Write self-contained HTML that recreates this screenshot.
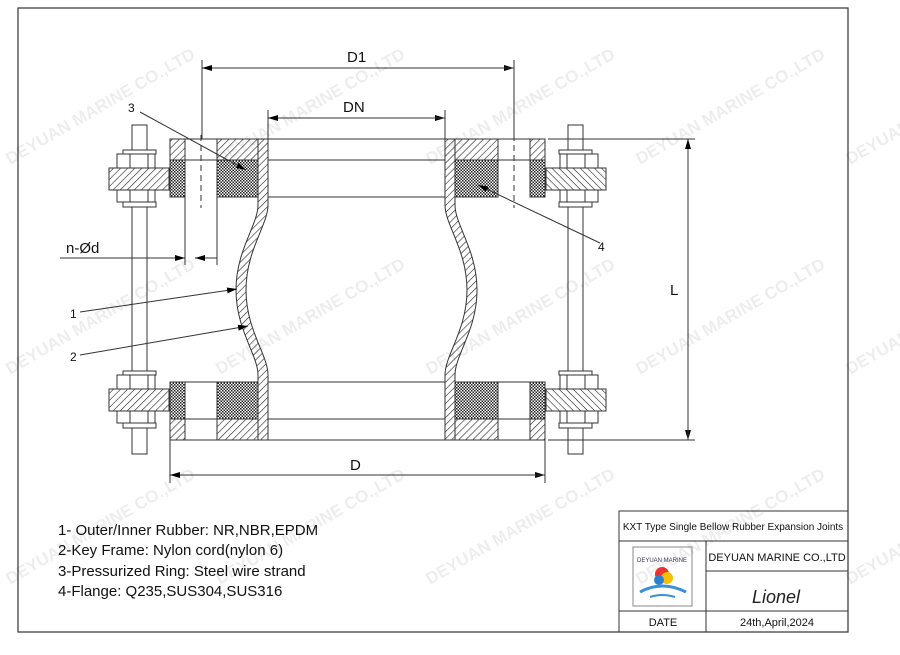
<!DOCTYPE html>
<html><head><meta charset="utf-8"><style>
html,body{margin:0;padding:0;background:#fff;}
svg{display:block;}
text{font-family:"Liberation Sans",Arial,sans-serif;}
</style></head><body>
<svg width="900" height="655" viewBox="0 0 900 655" xmlns="http://www.w3.org/2000/svg">
<defs>
<pattern id="h" width="5" height="5" patternUnits="userSpaceOnUse" patternTransform="rotate(45)">
<rect width="5" height="5" fill="#fff"/><line x1="0" y1="0" x2="0" y2="5" stroke="#222" stroke-width="1.2"/></pattern>
<pattern id="c" width="3" height="3" patternUnits="userSpaceOnUse">
<rect width="3" height="3" fill="#fff"/><rect width="1.5" height="1.5" fill="#222"/><rect x="1.5" y="1.5" width="1.5" height="1.5" fill="#222"/></pattern>
<marker id="a" markerWidth="10" markerHeight="6" refX="10" refY="3" orient="auto" markerUnits="userSpaceOnUse"><path d="M0,0 L10,3 L0,6z" fill="#000"/></marker>
<g id="nut">
<rect x="123" y="-4" width="33" height="4" fill="#fff" stroke="#333"/>
<rect x="117" y="0" width="38" height="48" fill="#fff" stroke="#333"/>
<line x1="130" y1="0" x2="130" y2="48" stroke="#333"/><line x1="148" y1="0" x2="148" y2="48" stroke="#333"/>
<rect x="123" y="48" width="33" height="5" fill="#fff" stroke="#333"/>
<rect x="109" y="14" width="60" height="22" fill="url(#h)" stroke="#333"/>
</g>
<g id="bolt">
<rect x="132" y="125" width="15" height="329" fill="#fff" stroke="#333"/>
<g transform="translate(0,154)"><use href="#nut"/></g>
<g transform="translate(0,375)"><use href="#nut"/></g>
</g>
</defs>
<rect width="900" height="655" fill="#fff"/>
<rect x="18" y="8" width="830" height="624" fill="none" stroke="#333" stroke-width="1.2"/>

<use href="#bolt"/>
<g transform="translate(715,0) scale(-1,1)"><use href="#bolt"/></g>

<g stroke="#333" fill="none">
<line x1="170" y1="139" x2="545" y2="139"/>
<line x1="170" y1="160" x2="545" y2="160"/>
<line x1="268" y1="197" x2="445" y2="197"/>
<line x1="170" y1="382" x2="545" y2="382"/>
<line x1="170" y1="419" x2="545" y2="419"/>
<line x1="170" y1="440" x2="545" y2="440"/>
</g>

<rect x="170" y="139" width="15" height="21" fill="url(#h)" stroke="#333"/>
<rect x="170" y="160" width="15" height="37" fill="url(#c)" stroke="#333"/>
<rect x="217" y="139" width="51" height="21" fill="url(#h)" stroke="#333"/>
<rect x="217" y="160" width="41" height="37" fill="url(#c)" stroke="#333"/>
<rect x="530" y="139" width="15" height="21" fill="url(#h)" stroke="#333"/>
<rect x="530" y="160" width="15" height="37" fill="url(#c)" stroke="#333"/>
<rect x="445" y="139" width="53" height="21" fill="url(#h)" stroke="#333"/>
<rect x="455" y="160" width="43" height="37" fill="url(#c)" stroke="#333"/>
<rect x="170" y="382" width="15" height="37" fill="url(#c)" stroke="#333"/>
<rect x="170" y="419" width="15" height="21" fill="url(#h)" stroke="#333"/>
<rect x="217" y="382" width="41" height="37" fill="url(#c)" stroke="#333"/>
<rect x="217" y="419" width="51" height="21" fill="url(#h)" stroke="#333"/>
<rect x="530" y="382" width="15" height="37" fill="url(#c)" stroke="#333"/>
<rect x="530" y="419" width="15" height="21" fill="url(#h)" stroke="#333"/>
<rect x="455" y="382" width="43" height="37" fill="url(#c)" stroke="#333"/>
<rect x="445" y="419" width="53" height="21" fill="url(#h)" stroke="#333"/>

<g stroke="#333" stroke-dasharray="6,4">
<line x1="201" y1="135" x2="201" y2="208"/>
<line x1="514" y1="135" x2="514" y2="208"/>
</g>
<g stroke="#333">
<line x1="185" y1="197" x2="185" y2="265"/>
<line x1="217" y1="197" x2="217" y2="265"/>
<line x1="498" y1="139" x2="498" y2="197"/>
<line x1="498" y1="382" x2="498" y2="440"/>
</g>

<path d="M258,160 L258,205 C258,225 236,250 236,290 C236,330 258,355 258,375 L258,440 L268,440 L268,375 C268,355 246,330 246,290 C246,250 268,225 268,205 L268,139 L258,139 Z" fill="url(#h)" stroke="#333"/>
<path d="M455,160 L455,205 C455,225 477,250 477,290 C477,330 455,355 455,375 L455,440 L445,440 L445,375 C445,355 467,330 467,290 C467,250 445,225 445,205 L445,139 L455,139 Z" fill="url(#h)" stroke="#333"/>

<g stroke="#333" fill="none">
<line x1="202" y1="60" x2="202" y2="139"/><line x1="514" y1="60" x2="514" y2="139"/>
<line x1="202" y1="68" x2="514" y2="68" marker-end="url(#a)"/>
<line x1="514" y1="68" x2="202" y2="68" marker-end="url(#a)"/>
<line x1="268" y1="110" x2="268" y2="139"/><line x1="445" y1="110" x2="445" y2="139"/>
<line x1="268" y1="118" x2="445" y2="118" marker-end="url(#a)"/>
<line x1="445" y1="118" x2="268" y2="118" marker-end="url(#a)"/>
<line x1="170" y1="440" x2="170" y2="483"/><line x1="545" y1="440" x2="545" y2="483"/>
<line x1="170" y1="475" x2="545" y2="475" marker-end="url(#a)"/>
<line x1="545" y1="475" x2="170" y2="475" marker-end="url(#a)"/>
<line x1="548" y1="139" x2="695" y2="139"/><line x1="548" y1="440" x2="695" y2="440"/>
<line x1="688" y1="139" x2="688" y2="440" marker-end="url(#a)"/>
<line x1="688" y1="440" x2="688" y2="139" marker-end="url(#a)"/>
<line x1="60" y1="258" x2="185" y2="258" marker-end="url(#a)"/>
<line x1="217" y1="258" x2="195" y2="258" marker-end="url(#a)"/>
<line x1="140" y1="112" x2="246" y2="170" marker-end="url(#a)"/>
<line x1="600" y1="243" x2="478" y2="185" marker-end="url(#a)"/>
<line x1="80" y1="312" x2="237" y2="289" marker-end="url(#a)"/>
<line x1="80" y1="355" x2="248" y2="326" marker-end="url(#a)"/>
</g>
<g font-size="15" fill="#111">
<text x="347" y="62">D1</text>
<text x="343" y="112">DN</text>
<text x="350" y="470">D</text>
<text x="670" y="295">L</text>
<text x="66" y="253">n-Ød</text>
</g>
<g font-size="12" fill="#111">
<text x="128" y="112">3</text>
<text x="598" y="251">4</text>
<text x="70" y="318">1</text>
<text x="70" y="361">2</text>
</g>

<g font-size="15" fill="#111">
<text x="58" y="535">1- Outer/Inner Rubber: NR,NBR,EPDM</text>
<text x="58" y="555">2-Key Frame: Nylon cord(nylon 6)</text>
<text x="58" y="576">3-Pressurized Ring: Steel wire strand</text>
<text x="58" y="596">4-Flange: Q235,SUS304,SUS316</text>
</g>

<g stroke="#333" fill="none">
<rect x="619" y="511" width="229" height="121"/>
<line x1="619" y1="541" x2="848" y2="541"/>
<line x1="706" y1="571" x2="848" y2="571"/>
<line x1="619" y1="611" x2="848" y2="611"/>
<line x1="706" y1="541" x2="706" y2="632"/>
<rect x="633" y="547" width="59" height="59" stroke="#888"/>
</g>
<text x="733" y="530" font-size="10" text-anchor="middle" fill="#111">KXT Type Single Bellow Rubber Expansion Joints</text>
<text x="777" y="561" font-size="11" text-anchor="middle" fill="#111">DEYUAN MARINE CO.,LTD</text>
<text x="663" y="626" font-size="11" text-anchor="middle" fill="#111">DATE</text>
<text x="777" y="626" font-size="11" text-anchor="middle" fill="#111">24th,April,2024</text>
<text x="752" y="603" font-size="18" font-style="italic" fill="#222" font-family="Liberation Serif,serif">Lionel</text>
<circle cx="662" cy="574" r="7" fill="#e33"/><circle cx="667" cy="578" r="6" fill="#f5c000"/><circle cx="659" cy="580" r="5" fill="#2a7fd0"/>
<path d="M640,592 Q662,580 686,592" stroke="#3a8fd8" stroke-width="3" fill="none"/>
<path d="M650,597 Q662,593 675,597" stroke="#3a8fd8" stroke-width="2" fill="none"/>
<text x="662" y="562" font-size="6" text-anchor="middle" fill="#335">DEYUAN MARINE</text>

<g font-size="17" font-weight="bold" fill="#000" fill-opacity="0.07">
<text transform="translate(10,165) rotate(-30)">DEYUAN MARINE CO.,LTD</text>
<text transform="translate(220,165) rotate(-30)">DEYUAN MARINE CO.,LTD</text>
<text transform="translate(430,165) rotate(-30)">DEYUAN MARINE CO.,LTD</text>
<text transform="translate(640,165) rotate(-30)">DEYUAN MARINE CO.,LTD</text>
<text transform="translate(850,165) rotate(-30)">DEYUAN MARINE CO.,LTD</text>
<text transform="translate(10,375) rotate(-30)">DEYUAN MARINE CO.,LTD</text>
<text transform="translate(220,375) rotate(-30)">DEYUAN MARINE CO.,LTD</text>
<text transform="translate(430,375) rotate(-30)">DEYUAN MARINE CO.,LTD</text>
<text transform="translate(640,375) rotate(-30)">DEYUAN MARINE CO.,LTD</text>
<text transform="translate(850,375) rotate(-30)">DEYUAN MARINE CO.,LTD</text>
<text transform="translate(10,585) rotate(-30)">DEYUAN MARINE CO.,LTD</text>
<text transform="translate(220,585) rotate(-30)">DEYUAN MARINE CO.,LTD</text>
<text transform="translate(430,585) rotate(-30)">DEYUAN MARINE CO.,LTD</text>
<text transform="translate(640,585) rotate(-30)">DEYUAN MARINE CO.,LTD</text>
<text transform="translate(850,585) rotate(-30)">DEYUAN MARINE CO.,LTD</text>
</g>
</svg>
</body></html>
